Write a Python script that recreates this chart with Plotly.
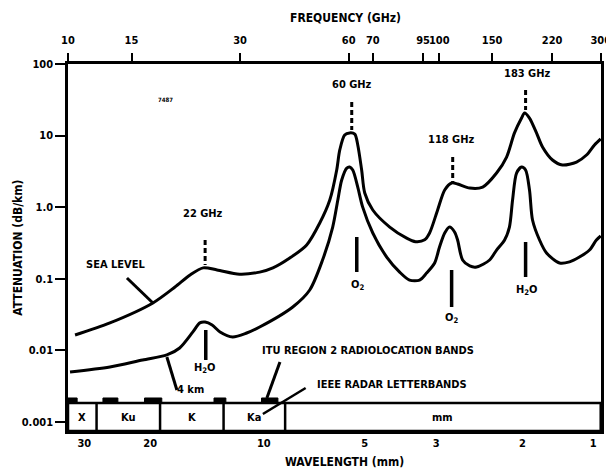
import math
import plotly.graph_objects as go

# ---------------- data ----------------
sea_freq = [10.46, 13.07, 17.2, 19.8, 21.8, 23.7, 25.9, 29.9, 34.0, 37.0, 41.2, 45.9, 49.9,
            53.2, 55.6, 56.7, 58.5, 60.4, 62.4, 63.6, 65.2, 66.5, 70.0, 78.0, 86.9, 92.0,
            97.5, 100.6, 105.9, 110.8, 115.8, 120.3, 130.0, 141.2, 154.3, 164.5, 173.0,
            181.0, 184.5, 190.4, 199.1, 206.9, 220.5, 235.0, 257.1, 274.0, 288.3, 300.0]
sea_att = [0.0164, 0.0242, 0.046, 0.0767, 0.113, 0.142, 0.133, 0.116, 0.124, 0.142, 0.195,
           0.297, 0.601, 1.26, 3.31, 6.3, 10.2, 10.9, 10.5, 7.4, 3.31, 1.58, 0.914, 0.528,
           0.37, 0.33, 0.35, 0.436, 0.914, 1.74, 2.18, 2.11, 1.85, 1.91, 3.0, 5.02, 10.9,
           17.6, 20.7, 17.6, 10.9, 6.93, 4.56, 3.88, 4.27, 5.36, 7.4, 8.98]

km4_freq = [10.13, 13.07, 16.1, 18.8, 20.4, 22.2, 23.2, 24.0, 25.1, 26.4, 28.6, 31.3, 34.0,
            42.0, 46.8, 50.8, 54.2, 56.0, 57.4, 59.3, 60.4, 61.6, 63.6, 65.6, 70.0, 76.5,
            83.1, 88.5, 94.4, 98.7, 103.9, 107.2, 110.8, 114.3, 118.0, 120.3, 124.2, 130.0,
            135.8, 147.6, 154.3, 162.4, 167.5, 170.9, 175.3, 181.0, 185.7, 190.4, 194.1,
            203.0, 212.3, 230.7, 245.8, 261.9, 279.3, 291.9, 300.0]
km4_att = [0.00499, 0.00586, 0.00735, 0.00863, 0.0108, 0.0181, 0.0242, 0.0249, 0.0226,
           0.0181, 0.0154, 0.0175, 0.0212, 0.0404, 0.0698, 0.183, 0.528, 1.26, 2.40, 3.52,
           3.64, 3.31, 1.91, 1.01, 0.436, 0.201, 0.124, 0.096, 0.096, 0.120, 0.166, 0.278,
           0.436, 0.528, 0.451, 0.348, 0.183, 0.151, 0.146, 0.183, 0.252, 0.348, 0.528, 1.26,
           3.0, 3.64, 3.31, 1.74, 0.662, 0.348, 0.229, 0.166, 0.172, 0.201, 0.252, 0.348, 0.396]

freq_tick_pos = [10, 15, 30, 60, 70, 96.5, 107, 150, 220, 300]
freq_tick_text = ["10", "15", "30", "60", "70", "95", "100", "150", "220", "300"]
wl_tick_pos = [11.1, 16.9, 34.9, 66.5, 105, 182, 286]
wl_tick_text = ["30", "20", "10", "5", "3", "2", "1"]
att_tick_vals = [100, 10, 1, 0.1, 0.01, 0.001]
att_tick_text = ["100", "10", "1.0", "0.1", "0.01", "0.001"]

ieee_edges = [10, 12, 18, 27, 40, 300]
ieee_names = ["X", "Ku", "K", "Ka", "mm"]
itu_bands = [(10.0, 10.6), (12.5, 13.75), (16.3, 18.2), (25.4, 27.4), (34.4, 38.2)]

# ---------------- styling / layout ----------------
FONT = "DejaVu Sans Condensed, Liberation Sans Narrow, Liberation Sans, Arial, sans-serif"
XR = [1, math.log10(300) + 0.0008]
YR = [-3.126, 2]
BAND_BOTTOM = 10 ** YR[0]
BAND_TOP = 10 ** -2.735
ITU_TOP = 10 ** -2.665

fig = go.Figure()
fig.add_trace(go.Scatter(x=sea_freq, y=sea_att, mode="lines",
                         line=dict(color="black", width=3, shape="spline", smoothing=0.8),
                         hoverinfo="skip"))
fig.add_trace(go.Scatter(x=km4_freq, y=km4_att, mode="lines",
                         line=dict(color="black", width=3, shape="spline", smoothing=0.8),
                         hoverinfo="skip"))
# invisible trace to activate the top frequency axis
fig.add_trace(go.Scatter(x=sea_freq, y=sea_att, xaxis="x2", mode="lines",
                         line=dict(width=0), opacity=0, hoverinfo="skip"))

shapes = []
# IEEE letter band box
shapes.append(dict(type="rect", xref="x", yref="y", x0=ieee_edges[0], x1=ieee_edges[-1],
                   y0=BAND_BOTTOM, y1=BAND_TOP, line=dict(color="black", width=2.5)))
for e in ieee_edges[1:-1]:
    shapes.append(dict(type="line", xref="x", yref="y", x0=e, x1=e, y0=BAND_BOTTOM, y1=BAND_TOP,
                       line=dict(color="black", width=2.5)))
# ITU radiolocation bands
for lo, hi in itu_bands:
    shapes.append(dict(type="rect", xref="x", yref="y", x0=lo, x1=hi, y0=BAND_TOP, y1=ITU_TOP,
                       fillcolor="black", line=dict(color="black", width=1)))


def seg(f0, lv0, f1, lv1, width=3, dash="solid"):
    shapes.append(dict(type="line", xref="x", yref="y", x0=f0, x1=f1, y0=10 ** lv0, y1=10 ** lv1,
                       line=dict(color="black", width=width, dash=dash)))


# dashed line markers
seg(24.0, -0.458, 24.0, -0.807, dash="5px,3px")
seg(61.2, 1.469, 61.2, 1.078, dash="5px,3px")
seg(116.6, 0.701, 116.6, 0.352, dash="5px,3px")
seg(185.7, 1.637, 185.7, 1.358, dash="5px,3px")
# absorbing species arrows
seg(24.1, -1.715, 24.1, -2.134, width=3.5)
seg(63.2, -0.416, 63.2, -0.905, width=3.5)
seg(115.8, -0.877, 115.8, -1.394, width=3.5)
seg(185.7, -0.486, 185.7, -0.975, width=3.5)
# pointer lines
seg(14.57, -0.989, 17.2, -1.338, width=3)
seg(18.8, -2.092, 20.04, -2.553, width=3)
seg(38.7, -2.162, 35.6, -2.665, width=3)
seg(45.6, -2.525, 34.7, -2.888, width=2.5)

annotations = []


def label(text, f, lv, size=11, **kw):
    annotations.append(dict(x=math.log10(f), y=lv, xref="x", yref="y", text=text,
                            showarrow=False, font=dict(size=size, family=FONT, color="black",
                                                       weight="bold"), **kw))


label("22 GHz", 23.7, -0.095)
label("60 GHz", 61.2, 1.707)
label("118 GHz", 115.8, 0.939)
label("183 GHz", 188, 1.874)
label("SEA LEVEL", 13.5, -0.807)
label("4 km", 21.8, -2.553)
label("H<sub>2</sub>O", 24.0, -2.246)
label("O<sub>2</sub>", 63.6, -1.087)
label("O<sub>2</sub>", 115.8, -1.547)
label("H<sub>2</sub>O", 186.9, -1.156)
label("ITU REGION 2 RADIOLOCATION BANDS", 67.8, -2.008)
label("IEEE RADAR LETTERBANDS", 79.0, -2.483)
label("7487", 18.6, 1.511, size=6)
for i, name in enumerate(ieee_names):
    fc = math.sqrt(ieee_edges[i] * ieee_edges[i + 1])
    label(name, fc, -2.944)

title_font = dict(size=12, family=FONT, color="black", weight="bold")
annotations.append(dict(x=0.52, y=1.125, xref="paper", yref="paper", text="FREQUENCY (GHz)",
                        xanchor="center", yanchor="middle", showarrow=False, font=title_font))
annotations.append(dict(x=0.518, y=-0.0845, xref="paper", yref="paper", text="WAVELENGTH (mm)",
                        xanchor="center", yanchor="middle", showarrow=False, font=title_font))
annotations.append(dict(x=-0.094, y=0.499, xref="paper", yref="paper",
                        text="ATTENUATION (dB/km)", textangle=-90,
                        xanchor="center", yanchor="middle", showarrow=False, font=title_font))

tick_font = dict(size=11, family=FONT, color="black", weight="bold")
fig.update_layout(
    width=606, height=470,
    margin=dict(l=68, r=5, t=64, b=39, autoexpand=False),
    plot_bgcolor="white", paper_bgcolor="white",
    showlegend=False,
    font=dict(family=FONT, size=11, color="black"),
    shapes=shapes, annotations=annotations,
    xaxis=dict(type="log", range=XR, tickvals=wl_tick_pos, ticktext=wl_tick_text,
               ticks="", showline=True, linecolor="black", linewidth=3, automargin=False,
               tickangle=0, showgrid=False, zeroline=False, tickfont=tick_font),
    xaxis2=dict(type="log", range=XR, overlaying="x", side="top", anchor="y",
                tickvals=freq_tick_pos, ticktext=freq_tick_text, automargin=False,
                ticks="outside", ticklen=8, tickwidth=2, tickcolor="black", tickangle=0,
                showline=True, linecolor="black", linewidth=3, ticklabelstandoff=5,
                ticklabeloverflow="allow",
                showgrid=False, zeroline=False, tickfont=tick_font),
    yaxis=dict(type="log", range=YR, tickvals=att_tick_vals, ticktext=att_tick_text,
               ticks="outside", ticklen=10, tickwidth=2, tickcolor="black", automargin=False,
               showline=True, linecolor="black", linewidth=2.5, mirror=True,
               showgrid=False, zeroline=False, tickfont=tick_font),
)

fig.write_html("out.html", config={"displayModeBar": False},
               post_script="document.body.style.margin='0';document.body.style.padding='0';")
